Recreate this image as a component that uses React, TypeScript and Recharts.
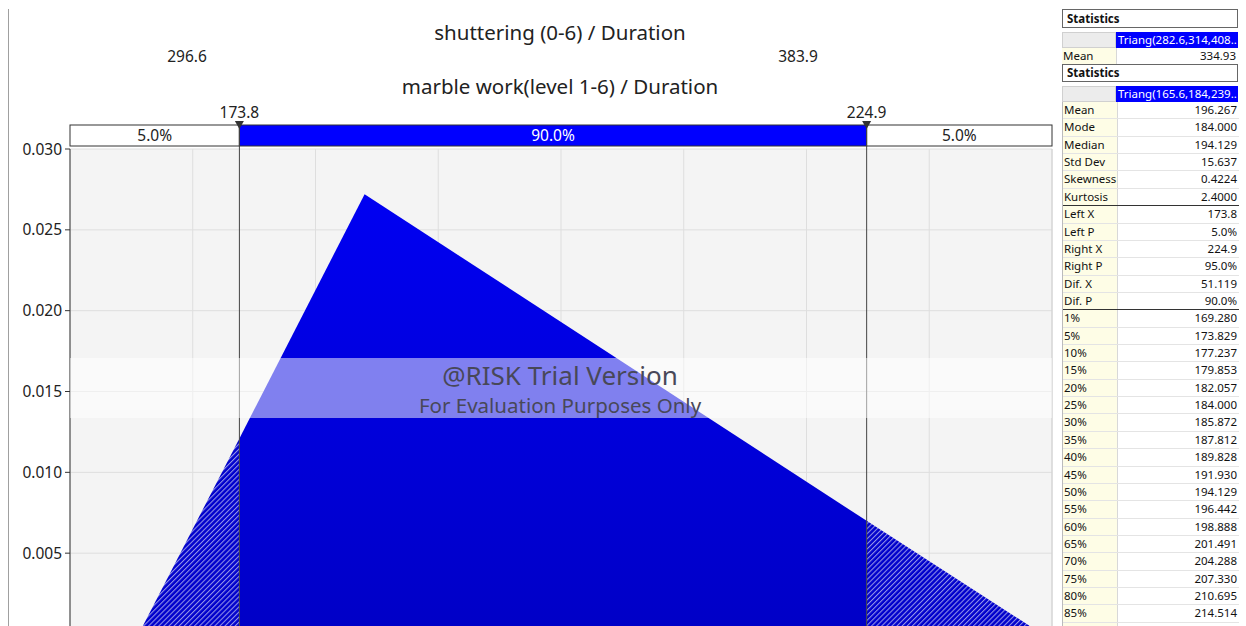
import { ComposedChart, Area, XAxis, YAxis, CartesianGrid, ReferenceLine, ReferenceArea } from 'recharts';

// marble work(level 1-6) / Duration ~ Triang(165.6, 184, 239.2)
const durationX = [165.6, 173.8, 184, 224.9, 239.2];
const density = [0, 0.0121, 0.0272, 0.007, 0];
const leftX = 173.8;
const rightX = 224.9;
const xMin = 160;
const xMax = 240;
const xTicks = [170, 180, 190, 200, 210, 220, 230];
const yTicks = [0.005, 0.01, 0.015, 0.02, 0.025, 0.03];
const bandLabels = ['5.0%', '90.0%', '5.0%'];

// shuttering overlay labels (its own delimiters)
const overlayTitle = 'shuttering (0-6) / Duration';
const overlayLeft = '296.6';
const overlayRight = '383.9';
const mainTitle = 'marble work(level 1-6) / Duration';

const overlayDist = 'Triang(282.6,314,408..';
const overlayRows = [['Mean', '334.93']];
const mainDist = 'Triang(165.6,184,239..';
const momentRows = [
  ['Mean', '196.267'], ['Mode', '184.000'], ['Median', '194.129'],
  ['Std Dev', '15.637'], ['Skewness', '0.4224'], ['Kurtosis', '2.4000'],
];
const delimiterRows = [
  ['Left X', '173.8'], ['Left P', '5.0%'], ['Right X', '224.9'],
  ['Right P', '95.0%'], ['Dif. X', '51.119'], ['Dif. P', '90.0%'],
];
const percentileRows = [
  ['1%', '169.280'], ['5%', '173.829'], ['10%', '177.237'], ['15%', '179.853'],
  ['20%', '182.057'], ['25%', '184.000'], ['30%', '185.872'], ['35%', '187.812'],
  ['40%', '189.828'], ['45%', '191.930'], ['50%', '194.129'], ['55%', '196.442'],
  ['60%', '198.888'], ['65%', '201.491'], ['70%', '204.288'], ['75%', '207.330'],
  ['80%', '210.695'], ['85%', '214.514'], ['', ''],
];

const rows = durationX.map((x, i) => ({
  x,
  left: x <= leftX ? density[i] : null,
  mid: x >= leftX && x <= rightX ? density[i] : null,
  right: x >= rightX ? density[i] : null,
}));

const font = '"Noto Sans", "DejaVu Sans", sans-serif';

const bandShape = (label: string, blue: boolean) => (p: any) => (
  <g>
    <rect x={p.x} y={p.y - 24} width={p.width} height={21} fill={blue ? '#0000ff' : '#ffffff'} stroke="#333" strokeWidth={1} />
    <text x={p.x + p.width / 2} y={p.y - 13.5} dy="0.36em" textAnchor="middle" fontSize={15.5} fontFamily={font} fill={blue ? '#ffffff' : '#222'}>{label}</text>
  </g>
);

const markerShape = (label: string) => (p: any) => {
  const x = p.x1;
  const top = Math.min(p.y1, p.y2) - 24;
  const bottom = Math.max(p.y1, p.y2);
  return (
    <g>
      <line x1={x} y1={top} x2={x} y2={bottom} stroke="#444" strokeWidth={1} />
      <path d={`M${x - 4.5},${top - 4} L${x + 4.5},${top - 4} L${x},${top + 4} Z`} fill="#333" />
      <text x={x} y={top - 13} dy="0.36em" textAnchor="middle" fontSize={15.5} fontFamily={font} fill="#222">{label}</text>
    </g>
  );
};

function Row({ label, value, sep }: { label: string; value: string; sep?: boolean }) {
  return (
    <div style={{ display: 'flex', height: 17.37, boxSizing: 'border-box', borderBottom: sep ? '1.5px solid #333' : '1px solid #e4e4e4' }}>
      <div style={{ width: 53, background: '#fefde6', borderRight: '1px solid #d8d8d8', paddingLeft: 1, lineHeight: '16px' }}>{label}</div>
      <div style={{ flex: 1, textAlign: 'right', paddingRight: 2, lineHeight: '16px' }}>{value}</div>
    </div>
  );
}

function Header({ top, height }: { top: number; height: number }) {
  return (
    <div style={{ position: 'absolute', left: 0, top, width: 176, height, boxSizing: 'border-box', border: '1px solid #666', fontWeight: 'bold', paddingLeft: 4, lineHeight: `${height - 2}px` }}>Statistics</div>
  );
}

function DistRow({ top, text }: { top: number; text: string }) {
  return (
    <div style={{ position: 'absolute', left: 0, top, width: 176, height: 16, display: 'flex' }}>
      <div style={{ width: 54, background: '#ececec', boxSizing: 'border-box', border: '1px solid #d0d0d0' }} />
      <div style={{ flex: 1, background: '#0000ff', color: '#fff', paddingLeft: 2, lineHeight: '16px', whiteSpace: 'nowrap', overflow: 'hidden' }}>{text}</div>
    </div>
  );
}

export default function App() {
  return (
    <div style={{ position: 'fixed', left: 0, top: 0, width: 1246, height: 626, overflow: 'hidden', background: '#fff', fontFamily: font }}>
      <div style={{ position: 'absolute', left: 8, top: 9, width: 1, height: 620, background: '#a0a0a0' }} />

      <div style={{ position: 'absolute', left: 0, top: 0 }}>
        <ComposedChart width={1060} height={634} data={rows} margin={{ top: 149, right: 8, bottom: 0, left: 0 }}>
          <defs>
            <pattern id="hatch" patternUnits="userSpaceOnUse" width={3.6} height={3.6} patternTransform="rotate(45)">
              <rect width={3.6} height={3.6} fill="#0000cc" />
              <line x1={0.6} y1={0} x2={0.6} y2={3.6} stroke="#b0b0ee" strokeWidth={0.9} />
            </pattern>
            <linearGradient id="solid" x1="0" y1="0" x2="0" y2="1">
              <stop offset="0%" stopColor="#0000f2" />
              <stop offset="100%" stopColor="#0000c6" />
            </linearGradient>
          </defs>
          <CartesianGrid fill="#f4f4f4" stroke="#dedede" strokeWidth={1} />
          <XAxis type="number" dataKey="x" domain={[xMin, xMax]} ticks={xTicks} hide />
          <YAxis
            type="number"
            domain={[0, 0.03]}
            ticks={yTicks}
            width={70}
            tickSize={5}
            tickMargin={3}
            tickFormatter={(v: number) => v.toFixed(3)}
            tick={{ fontSize: 15.5, fontFamily: font, fill: '#222' }}
            axisLine={{ stroke: '#333' }}
            tickLine={{ stroke: '#333' }}
          />
          <Area type="linear" dataKey="left" fill="url(#hatch)" fillOpacity={1} stroke="none" isAnimationActive={false} />
          <Area type="linear" dataKey="mid" fill="url(#solid)" fillOpacity={1} stroke="none" isAnimationActive={false} />
          <Area type="linear" dataKey="right" fill="url(#hatch)" fillOpacity={1} stroke="none" isAnimationActive={false} />
          <ReferenceLine x={xMax} stroke="#d0d0d0" />
          <ReferenceArea x1={xMin} x2={leftX} shape={bandShape(bandLabels[0], false)} />
          <ReferenceArea x1={leftX} x2={rightX} shape={bandShape(bandLabels[1], true)} />
          <ReferenceArea x1={rightX} x2={xMax} shape={bandShape(bandLabels[2], false)} />
          <ReferenceLine x={leftX} shape={markerShape(leftX.toFixed(1))} />
          <ReferenceLine x={rightX} shape={markerShape(rightX.toFixed(1))} />
        </ComposedChart>
      </div>

      {/* titles */}
      <div style={{ position: 'absolute', left: 360, width: 400, top: 19, textAlign: 'center', fontSize: 20.5, color: '#222', lineHeight: '26px' }}>{overlayTitle}</div>
      <div style={{ position: 'absolute', left: 137, width: 100, top: 46, textAlign: 'center', fontSize: 15.5, color: '#222', lineHeight: '20px' }}>{overlayLeft}</div>
      <div style={{ position: 'absolute', left: 748, width: 100, top: 46, textAlign: 'center', fontSize: 15.5, color: '#222', lineHeight: '20px' }}>{overlayRight}</div>
      <div style={{ position: 'absolute', left: 360, width: 400, top: 73, textAlign: 'center', fontSize: 20.5, color: '#222', lineHeight: '26px' }}>{mainTitle}</div>

      {/* watermark */}
      <div style={{ position: 'absolute', left: 70, top: 358, width: 982, height: 60, background: 'rgba(255,255,255,0.5)' }} />
      <div style={{ position: 'absolute', left: 360, width: 400, top: 358, textAlign: 'center', fontSize: 26, color: '#484858', lineHeight: '34px' }}>@RISK Trial Version</div>
      <div style={{ position: 'absolute', left: 360, width: 400, top: 391, textAlign: 'center', fontSize: 20.5, color: '#484858', lineHeight: '28px' }}>For Evaluation Purposes Only</div>

      {/* statistics panel */}
      <div style={{ position: 'absolute', left: 1062, top: 9, width: 176, height: 640, fontSize: 11.5, color: '#111' }}>
        <Header top={0} height={19} />
        <DistRow top={23} text={overlayDist} />
        <div style={{ position: 'absolute', left: 0, top: 39, width: 176 }}>
          {overlayRows.map(([l, v]) => <Row key={l} label={l} value={v} />)}
        </div>
        <Header top={55} height={18} />
        <DistRow top={77} text={mainDist} />
        <div style={{ position: 'absolute', left: 0, top: 93, width: 176, borderLeft: '1px solid #bbb' }}>
          {momentRows.map(([l, v], i) => <Row key={l} label={l} value={v} sep={i === momentRows.length - 1} />)}
          {delimiterRows.map(([l, v], i) => <Row key={l} label={l} value={v} sep={i === delimiterRows.length - 1} />)}
          {percentileRows.map(([l, v], i) => <Row key={'p' + i} label={l} value={v} />)}
        </div>
      </div>
    </div>
  );
}
